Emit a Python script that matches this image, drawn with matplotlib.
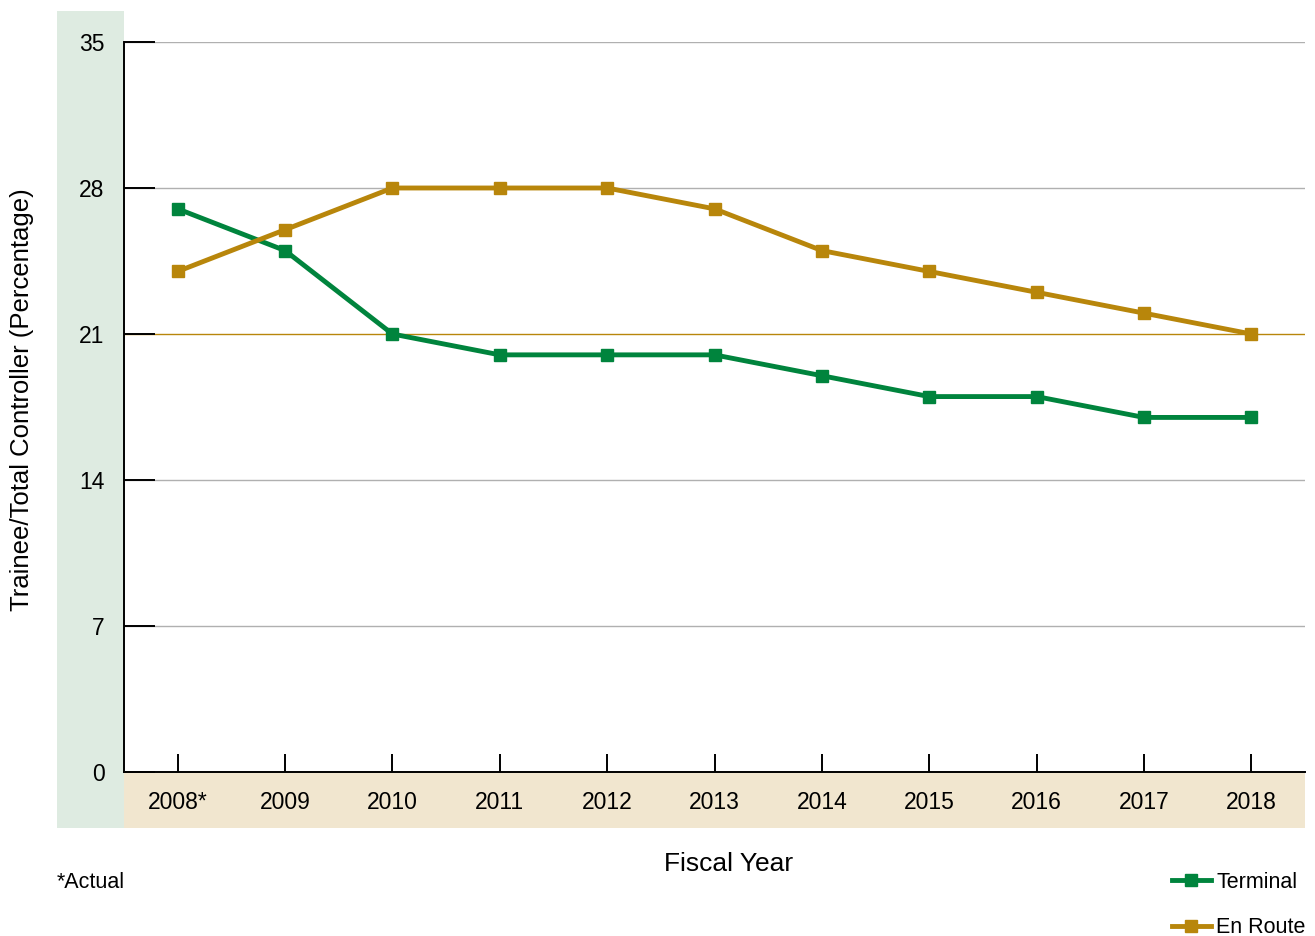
import matplotlib
matplotlib.use("Agg")
import matplotlib.pyplot as plt
from matplotlib.patches import Rectangle

plt.rcParams['font.family'] = ['Liberation Sans', 'DejaVu Sans']

years = ["2008*", "2009", "2010", "2011", "2012", "2013", "2014", "2015", "2016", "2017", "2018"]
terminal = [27, 25, 21, 20, 20, 20, 19, 18, 18, 17, 17]
en_route = [24, 26, 28, 28, 28, 27, 25, 24, 23, 22, 21]
yticks = [0, 7, 14, 21, 28, 35]

GREEN = "#00843D"
GOLD = "#B8860B"
W, H = 1315, 936

fig = plt.figure(figsize=(W / 100, H / 100), dpi=100)

def fx(px):
    return px / W

def fy(py):
    return 1 - py / H

# background panels
fig.patches.append(Rectangle((fx(57), fy(828)), fx(124) - fx(57), fy(11) - fy(828),
                             transform=fig.transFigure, facecolor="#DEEBE1", edgecolor="none", zorder=-5))
fig.patches.append(Rectangle((fx(124), fy(828)), fx(1305) - fx(124), fy(772) - fy(828),
                             transform=fig.transFigure, facecolor="#F1E6CF", edgecolor="none", zorder=-5))

ax = fig.add_axes([fx(124), fy(772), fx(1305) - fx(124), fy(42) - fy(772)])
ax.set_facecolor("none")
ax.set_zorder(2)
x = list(range(len(years)))

for yv in yticks[1:]:
    ax.axhline(yv, color=(GOLD if yv == 21 else "#B0B0B0"), lw=1.0, zorder=1)

l1, = ax.plot(x, terminal, color=GREEN, lw=3.5, marker="s", markersize=9, label="Terminal", zorder=3,
              solid_joinstyle="miter")
l2, = ax.plot(x, en_route, color=GOLD, lw=3.5, marker="s", markersize=9, label="En Route", zorder=3,
              solid_joinstyle="miter")

ax.set_xlim(-0.5, 10.5)
ax.set_ylim(0, 35)
ax.set_xticks(x)
ax.set_xticklabels(years)
ax.set_yticks(yticks)
ax.tick_params(axis="x", direction="in", length=13, width=1.4, pad=14, labelsize=16.5, color="black")
ax.tick_params(axis="y", direction="in", length=22, width=1.4, pad=14, labelsize=16.5, color="black")
for s in ["top", "right"]:
    ax.spines[s].set_visible(False)
for s in ["left", "bottom"]:
    ax.spines[s].set_linewidth(1.4)
    ax.spines[s].set_color("black")

fig.text(fx(22), fy(400), "Trainee/Total Controller (Percentage)", rotation=90,
         ha="center", va="center", fontsize=18.5)
fig.text(fx(729), fy(864), "Fiscal Year", ha="center", va="center", fontsize=19)
fig.text(fx(57), fy(883), "*Actual", ha="left", va="center", fontsize=15.5)

fig.legend(handles=[l1, l2], loc="lower right", bbox_to_anchor=(fx(1314), fy(947)),
           frameon=False, fontsize=15.5, handlelength=1.8, handletextpad=0.25,
           labelspacing=1.15, numpoints=1, borderaxespad=0)

fig.savefig("out.png", dpi=100)
